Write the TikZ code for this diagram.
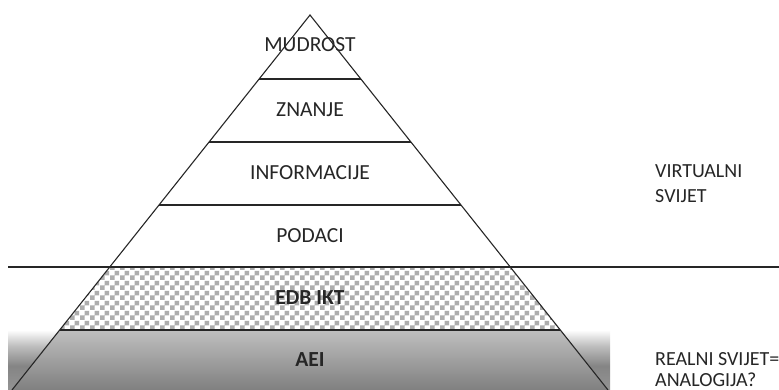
\documentclass[tikz,border=0pt]{standalone}
\usepackage{fontspec}
\setmainfont{Carlito}
\usetikzlibrary{calc,patterns}

% 5pt checker squares for the EDB/IKT layer
\pgfdeclarepatternformonly{checks}{\pgfpointorigin}{\pgfqpoint{10pt}{10pt}}{\pgfqpoint{10pt}{10pt}}{%
  \pgfpathrectangle{\pgfpointorigin}{\pgfqpoint{5pt}{5pt}}%
  \pgfpathrectangle{\pgfqpoint{5pt}{5pt}}{\pgfqpoint{5pt}{5pt}}%
  \pgfusepath{fill}}

% band behind the base layer: white at the top, grey below
\pgfdeclareverticalshading{bandshade}{100bp}{%
  color(0bp)=(black!42); color(25bp)=(black!42); color(45bp)=(black!48);
  color(62bp)=(black!25); color(75bp)=(white); color(100bp)=(white)}

\tikzset{
  edge/.style={draw=black!85, line width=1.1pt},
  layer/.style={font=\fontsize{21.5}{25}\selectfont, text=black!85, inner sep=0pt},
  strong/.style={layer, font=\fontsize{21.5}{25}\selectfont\bfseries},
  side/.style={font=\fontsize{20}{24}\selectfont, text=black!85, inner sep=0pt, anchor=west}
}

\begin{document}
\begin{tikzpicture}[x=1pt,y=-1pt]
\useasboundingbox (0,0) rectangle (779,390);

% pyramid corners
\coordinate (apex) at (310,15);
\coordinate (baseL) at (12,390);
\coordinate (baseR) at (608,390);

% level boundaries on both sides
\foreach \name/\t in {one/0.1707,two/0.3387,three/0.5067,four/0.672,five/0.84}{
  \coordinate (\name-L) at ($(apex)!\t!(baseL)$);
  \coordinate (\name-R) at ($(apex)!\t!(baseR)$);
}
\coordinate (lineW) at (8,267);
\coordinate (lineE) at (779,267);

% grey band at the base
\shade[shading=bandshade] (8,330) rectangle (610,390);
\shade[top color=black!25, bottom color=black!50] (five-L) -- (five-R) -- (baseR) -- (baseL) -- cycle;

% checkered layer
\fill[white] (four-L) -- (four-R) -- (five-R) -- (five-L) -- cycle;
\fill[pattern=checks, pattern color=black!32] (four-L) -- (four-R) -- (five-R) -- (five-L) -- cycle;

% pyramid outline and level lines
\draw[edge] (baseL) -- (apex) -- (baseR);
\draw[edge] (one-L) -- (one-R);
\draw[edge] (two-L) -- (two-R);
\draw[edge] (three-L) -- (three-R);
\draw[edge] (lineW) -- (lineE);
\draw[edge] (five-L) -- (five-R);

% level labels
\node[layer] (mud) at (310,45) {MUDROST};
\node[layer] (zna) at (310,110) {ZNANJE};
\node[layer] (inf) at (310,173) {INFORMACIJE};
\node[layer] (pod) at (310,236) {PODACI};
\node[strong] (edb) at (310,298) {EDB IKT};
\node[strong] (aei) at (310,360) {AEI};

% side labels
\node[side] (virt) at (655,171) {VIRTUALNI};
\node[side] (svij) at (655,196) {SVIJET};
\node[side] (real) at (655,359) {REALNI SVIJET=};
\node[side] (anal) at (655,380) {ANALOGIJA?};
\end{tikzpicture}
\end{document}
